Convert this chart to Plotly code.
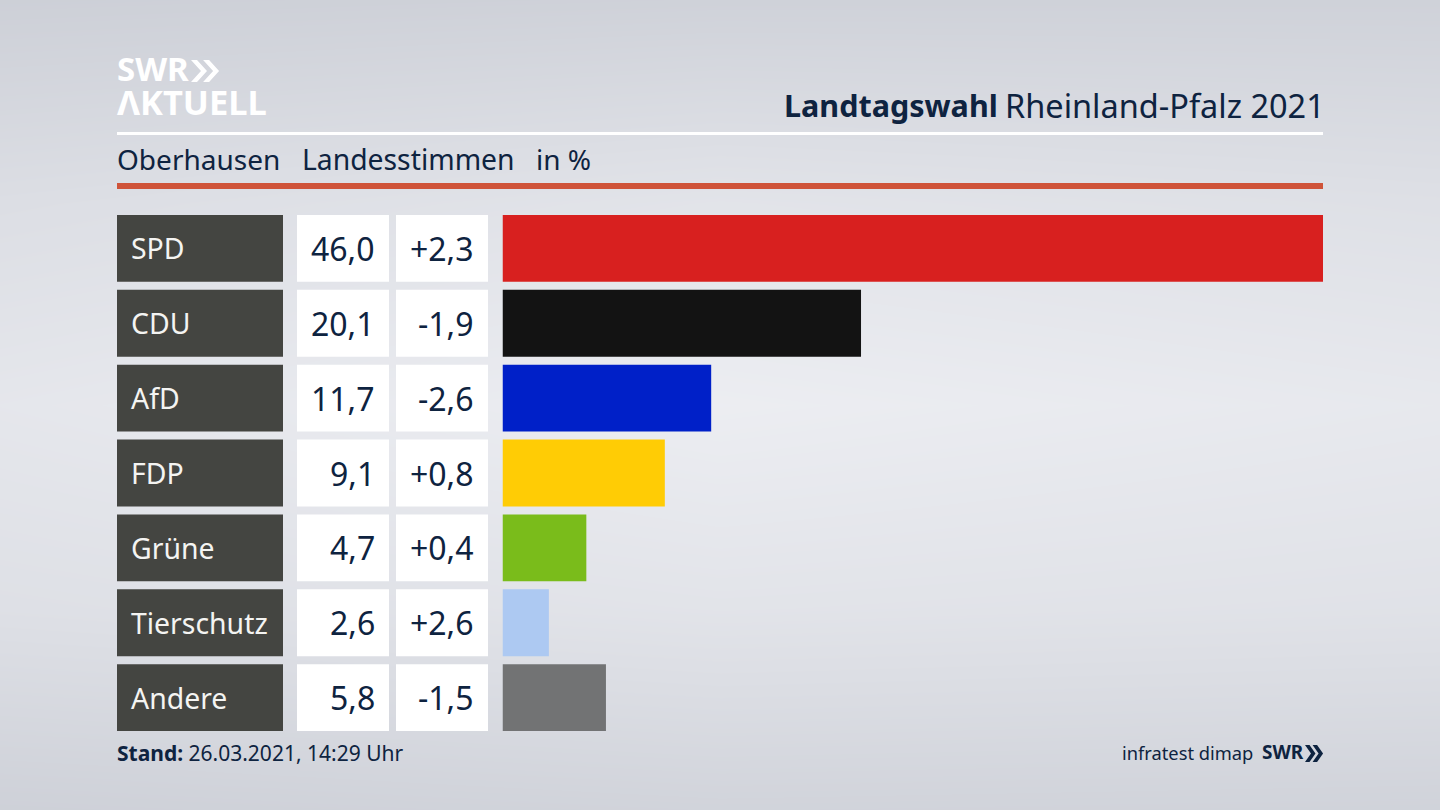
import plotly.graph_objects as go

parties = ["SPD", "CDU", "AfD", "FDP", "Grüne", "Tierschutz", "Andere"]
shares = [46.0, 20.1, 11.7, 9.1, 4.7, 2.6, 5.8]
share_labels = ["46,0", "20,1", "11,7", "9,1", "4,7", "2,6", "5,8"]
diff_labels = ["+2,3", "-1,9", "-2,6", "+0,8", "+0,4", "+2,6", "-1,5"]
bar_colors = ["#d8201f", "#131313", "#0020c8", "#ffcc05", "#7abc1b", "#adc9f2", "#727374"]

# background brightness, rows top to bottom
bg_x = [0, 0.5, 1]
bg_y = [0, 0.25, 0.5, 0.75, 1]
bg_z = [
    [205, 207, 207],
    [220, 226, 222],
    [229, 236, 231],
    [222, 226, 224],
    [206, 209, 208],
]

WIDTH = 1440
HEIGHT = 810
NAVY = "#0e2340"
FONT = "Noto Sans"


def px(x):
    return x / WIDTH


def py(y):
    return 1 - y / HEIGHT


def chevrons(x, top, bottom, size, stroke):
    # two filled arrow heads, used in both SWR logos
    mid = (top + bottom) / 2
    path = ""
    for left in (x, x + size + stroke * 0.35):
        pts = [(left, top), (left + stroke, top), (left + stroke + size, mid),
               (left + stroke, bottom), (left, bottom), (left + size, mid)]
        path += "M " + " L ".join(f"{px(a):.5f},{py(b):.5f}" for a, b in pts) + " Z "
    return dict(type="path", xref="paper", yref="paper", path=path, fillcolor="#000", line_width=0)


fig = go.Figure()

# background sits on the first axes so everything else draws over it
fig.add_trace(go.Heatmap(
    x=bg_x, y=bg_y, z=bg_z, xaxis="x", yaxis="y",
    zsmooth="best", showscale=False, hoverinfo="skip", zmin=200, zmax=240,
    colorscale=[[0, "#c8cbd3"], [1, "#f0f1f5"]],
))

# label and number cells, one axis each
cell_axes = [("x2", "#444541"), ("x3", "#ffffff"), ("x4", "#ffffff")]
for axis, color in cell_axes:
    fig.add_trace(go.Bar(
        y=parties, x=[1] * len(parties), orientation="h", xaxis=axis, yaxis="y2",
        marker_color=color, marker_line_width=0, hoverinfo="skip",
    ))

fig.add_trace(go.Bar(
    y=parties, x=shares, orientation="h", xaxis="x5", yaxis="y2",
    marker_color=bar_colors, marker_line_width=0,
))

annotations = []
for party, share, diff in zip(parties, share_labels, diff_labels):
    annotations.append(dict(xref="x2", yref="y2", x=0, y=party, text=party, xanchor="left", xshift=12,
                            showarrow=False, font=dict(size=28.4, color="#f4f4f2")))
    annotations.append(dict(xref="x3", yref="y2", x=1, y=party, text=share, xanchor="right", xshift=-12,
                            showarrow=False, font=dict(size=32, color=NAVY)))
    annotations.append(dict(xref="x4", yref="y2", x=1, y=party, text=diff, xanchor="right", xshift=-12,
                            showarrow=False, font=dict(size=32, color=NAVY)))


def page_text(x, y, text, size, color=NAVY, anchor="left"):
    annotations.append(dict(xref="paper", yref="paper", x=px(x), y=py(y), text=text, xanchor=anchor,
                            xshift=-2 if anchor == "left" else 2, yanchor="middle", showarrow=False,
                            font=dict(size=size, color=color)))


page_text(117, 69, "<b>SWR</b>", 33, "#ffffff")
page_text(117, 102, "<b>ΛKTUELL</b>", 34.5, "#ffffff")
page_text(998, 105, "<b>Landtagswahl</b>", 30.5, anchor="right")
page_text(1325, 105, "Rheinland-Pfalz 2021", 32.5, anchor="right")
page_text(117, 159, "Oberhausen", 28)
page_text(302, 159, "Landesstimmen", 28.3)
page_text(536, 159, "in %", 28)
page_text(117, 753, "<b>Stand:</b> 26.03.2021, 14:29 Uhr", 21)
page_text(1122, 752, "infratest dimap", 18.3)
page_text(1304, 752, "<b>SWR</b>", 19, anchor="right")

logo_big = chevrons(191, 60, 82, 10, 6)
logo_big["fillcolor"] = "#ffffff"
logo_small = chevrons(1305, 745, 762, 6, 4.5)
logo_small["fillcolor"] = NAVY

fig.update_layout(
    width=WIDTH,
    height=HEIGHT,
    margin=dict(l=0, r=0, t=0, b=0),
    font=dict(family=FONT, color=NAVY),
    paper_bgcolor="#e0e2e7",
    plot_bgcolor="rgba(0,0,0,0)",
    showlegend=False,
    bargap=0.107,
    barmode="overlay",
    annotations=annotations,
    shapes=[
        dict(type="rect", xref="paper", yref="paper", x0=px(117), x1=px(1323), y0=py(132), y1=py(135),
             fillcolor="#ffffff", line_width=0),
        dict(type="rect", xref="paper", yref="paper", x0=px(117), x1=px(1323), y0=py(183), y1=py(189),
             fillcolor="#cf5339", line_width=0),
        logo_big,
        logo_small,
    ],
    xaxis=dict(domain=[0, 1], range=[0, 1], visible=False, anchor="y", fixedrange=True),
    yaxis=dict(domain=[0, 1], range=[1, 0], visible=False, anchor="x", fixedrange=True),
    xaxis2=dict(domain=[px(117), px(283)], range=[0, 1], visible=False, anchor="y2", fixedrange=True),
    xaxis3=dict(domain=[px(297), px(389)], range=[0, 1], visible=False, anchor="y2", fixedrange=True),
    xaxis4=dict(domain=[px(396), px(488)], range=[0, 1], visible=False, anchor="y2", fixedrange=True),
    xaxis5=dict(domain=[px(502.5), px(1323)], range=[0, 46], visible=False, anchor="y2", fixedrange=True),
    yaxis2=dict(domain=[py(735), py(211)], range=[6.5, -0.5], type="category",
                categoryorder="array", categoryarray=parties, visible=False, fixedrange=True, anchor="x2"),
)

fig.write_html("out.html", config={"displayModeBar": False},
               post_script="document.body.style.margin='0';")
